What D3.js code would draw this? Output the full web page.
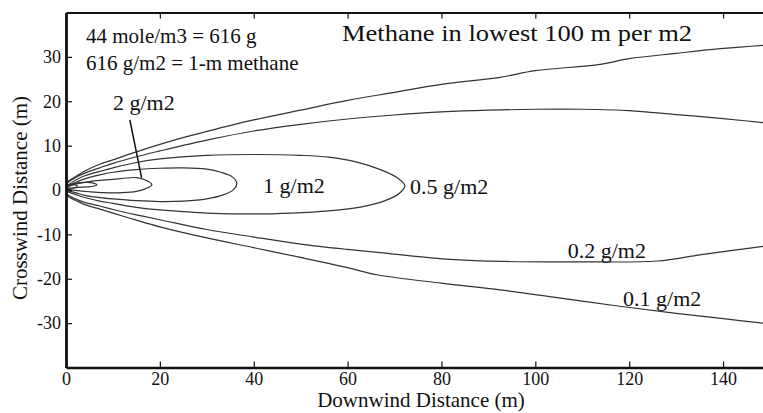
<!DOCTYPE html>
<html>
<head>
<meta charset="utf-8">
<script src="https://cdn.jsdelivr.net/npm/d3@7"></script>
<style>
  body { margin: 0; background: #fff; }
  svg text { font-family: "Liberation Serif", "Times New Roman", serif; fill: #111; }
</style>
</head>
<body>
<div id="chart"></div>
<script>
// tick values
var xTicks = [0, 20, 40, 60, 80, 100, 120, 140];
var yTicks = [-30, -20, -10, 0, 10, 20, 30];

// contour lines, [downwind m, crosswind m]
var c01 = [[150,32.7],[140,31.9],[130,30.8],[120,29.6],[113.8,28.3],[100,26.9],[92.5,25.4],[80,23.8],[70,22.0],[60,20.2],[50,18.0],[40,15.8],[30,13.2],[23.6,11.4],[15,8.6],[10,6.8],[7.2,5.8],[4,4.3],[2,3.0],[0.5,2.0],[0,1.2],
           [0,-0.8],[0.5,-1.5],[2,-2.3],[4,-3.3],[7.2,-4.3],[10,-5.2],[15,-6.8],[20,-8.3],[30,-10.8],[40,-13.0],[50,-15.2],[60,-17.5],[66.2,-19.1],[80,-21.0],[92.5,-22.5],[105,-24.3],[118,-26.2],[130,-27.8],[140,-29.0],[150,-30.2]];
var c02 = [[150,15.0],[140,16.1],[130,17.0],[120,17.9],[110,18.2],[100,18.2],[90,18.0],[80,17.6],[70,16.9],[60,16.0],[50,14.8],[40,13.3],[30.7,11.4],[20,8.8],[15,7.5],[10,6.0],[7.2,5.0],[4,3.8],[2,2.8],[0.5,1.8],[0,1.0],
           [0,-0.6],[0.5,-1.2],[2,-2.0],[4,-2.8],[7.2,-3.6],[10,-4.4],[15,-5.6],[20,-6.7],[30,-8.9],[40,-10.6],[50,-12.2],[60,-13.4],[66.9,-14.1],[80,-15.5],[93.5,-16.1],[110,-16.2],[126,-16.0],[135,-14.6],[142,-13.6],[150,-12.5]];
var c05 = [[0,0.8],[2,2.2],[4,3.2],[7.2,4.2],[10,5.0],[15,6.2],[20,7.0],[30,7.8],[40,8.0],[50,7.8],[56,7.4],[62,6.3],[67,4.6],[70.5,2.8],[72.2,1.0],[71,-0.8],[68,-2.4],[63,-3.8],[56,-4.7],[48,-5.2],[40,-5.4],[30,-5.2],[20,-4.5],[15,-3.9],[10,-3.0],[7.2,-2.5],[4,-1.7],[2,-1.0],[0,-0.3]];
var c1 = [[0,0.6],[2,1.7],[4,2.5],[7.2,3.4],[10,4.0],[15,4.6],[20,4.9],[25,5.0],[30,4.7],[33,4.0],[35.5,2.9],[36.4,1.5],[35.7,0.1],[33.5,-1.1],[30,-2.0],[25,-2.5],[20,-2.6],[15,-2.4],[10,-2.0],[7.2,-1.7],[4,-1.2],[2,-0.6],[0,-0.1]];
var c2 = [[0,0.5],[2,1.3],[5,1.9],[10,2.4],[13,2.7],[15,2.8],[16.8,2.3],[18.3,1.2],[17,0.3],[15,-0.3],[12,-0.6],[8,-0.6],[5,-0.4],[2,-0.1],[0,0.2]];
var c5 = [[0,0.6],[1,1.2],[2.5,1.6],[4.5,1.7],[6,1.5],[6.6,1.2],[6,0.9],[4.5,0.7],[2.5,0.6],[1,0.4],[0,0.4]];
var c10 = [[0,0.7],[0.8,1.1],[1.8,1.2],[2.4,0.9],[1.8,0.5],[0.8,0.4],[0,0.5]];

var contours = [c01, c02, c05, c1, c2, c5, c10];
var closed = [false, false, true, true, true, true, true];

var W = 763, H = 413;
var svg = d3.select("#chart").append("svg").attr("width", W).attr("height", H);

var x = d3.scaleLinear().domain([0, 150]).range([66, 770]);
var y = d3.scaleLinear().domain([-40, 40]).range([367.5, 12.5]);

svg.append("clipPath").attr("id", "plotclip")
    .append("rect").attr("x", 66).attr("y", 12.5).attr("width", 704).attr("height", 355);

var line = d3.line().x(function(d){ return x(d[0]); }).y(function(d){ return y(d[1]); })
    .curve(d3.curveCatmullRom.alpha(0.5));
var lineClosed = d3.line().x(function(d){ return x(d[0]); }).y(function(d){ return y(d[1]); })
    .curve(d3.curveCatmullRomClosed.alpha(0.5));

var g = svg.append("g").attr("clip-path", "url(#plotclip)");
g.selectAll("path.contour")
    .data(contours)
    .enter()
    .append("path")
    .attr("class", "contour")
    .attr("d", function(d, i){ return closed[i] ? lineClosed(d) : line(d); })
    .attr("fill", "none")
    .attr("stroke", "#333")
    .attr("stroke-width", 1.2);

// pointer from the 2 g/m2 label
svg.append("line")
    .attr("x1", x(13.6)).attr("y1", y(15.8))
    .attr("x2", x(16.1)).attr("y2", y(2.8))
    .attr("stroke", "#111").attr("stroke-width", 1.5);

// axes
var xAxis = svg.append("g").attr("transform", "translate(0," + y(-40) + ")")
    .call(d3.axisBottom(x).tickValues(xTicks).tickFormat(function(d){ return String(d); })
        .tickSizeInner(-6).tickSizeOuter(0).tickPadding(5));
var xTop = svg.append("g").attr("transform", "translate(0," + y(40) + ")")
    .call(d3.axisTop(x).tickValues(xTicks.slice(1)).tickFormat("")
        .tickSizeInner(-6).tickSizeOuter(0));
var yAxis = svg.append("g").attr("transform", "translate(" + x(0) + ",0)")
    .call(d3.axisLeft(y).tickValues(yTicks).tickFormat(function(d){ return String(d); })
        .tickSizeInner(-6).tickSizeOuter(0).tickPadding(5));

svg.selectAll(".tick text").style("font-size", "18px").attr("fill", "#111");
svg.selectAll(".tick line").attr("stroke", "#111").attr("stroke-width", 1.2);
xAxis.select(".domain").attr("stroke", "#111").attr("stroke-width", 2.6);
yAxis.select(".domain").attr("stroke", "#111").attr("stroke-width", 2.8);
xTop.select(".domain").attr("stroke", "#111").attr("stroke-width", 2);

// axis titles
svg.append("text")
    .attr("x", 421).attr("y", 407)
    .attr("text-anchor", "middle")
    .style("font-size", "21px")
    .text("Downwind Distance (m)");
svg.append("text")
    .attr("transform", "translate(27,198) rotate(-90)")
    .attr("text-anchor", "middle")
    .style("font-size", "21px")
    .text("Crosswind Distance (m)");

// notes
svg.append("text").attr("x", 86).attr("y", 43).style("font-size", "21px").text("44 mole/m3 = 616 g");
svg.append("text").attr("x", 86).attr("y", 70).style("font-size", "21px").text("616 g/m2 = 1-m methane");
svg.append("text").attr("x", 342).attr("y", 41).style("font-size", "24px")
    .attr("textLength", 350).attr("lengthAdjust", "spacingAndGlyphs")
    .text("Methane in lowest 100 m per m2");

// contour labels
var labels = [
    {t: "2 g/m2",   px: 10.0,  py: 18.1},
    {t: "1 g/m2",   px: 42.0,  py: -0.6},
    {t: "0.5 g/m2", px: 73.3,  py: -1.0},
    {t: "0.2 g/m2", px: 106.9, py: -15.4},
    {t: "0.1 g/m2", px: 118.7, py: -26.2}
];
svg.selectAll("text.lbl")
    .data(labels)
    .enter()
    .append("text")
    .attr("class", "lbl")
    .attr("x", function(d){ return x(d.px); })
    .attr("y", function(d){ return y(d.py); })
    .style("font-size", "22px")
    .text(function(d){ return d.t; });
</script>
</body>
</html>
